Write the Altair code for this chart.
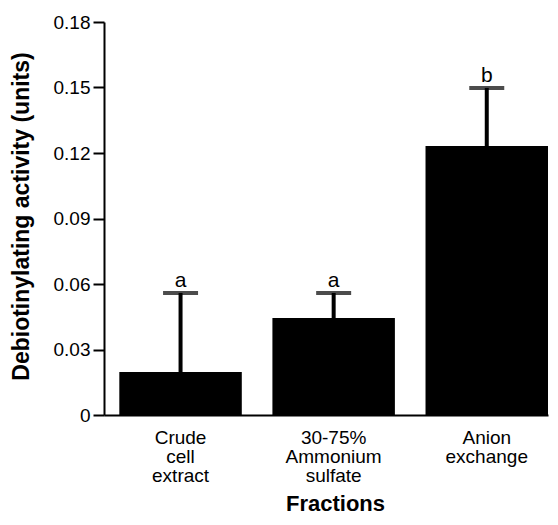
import altair as alt
import pandas as pd

categories = ["Crude|cell|extract", "30-75%|Ammonium|sulfate", "Anion|exchange"]
activity = [0.0197, 0.0444, 0.1232]
upper_err = [0.0559, 0.0559, 0.1498]
letters = ["a", "a", "b"]
y_ticks = [0, 0.03, 0.06, 0.09, 0.12, 0.15, 0.18]

df = pd.DataFrame({
    "cat": categories,
    "val": activity,
    "up": upper_err,
    "let": letters,
})

FONT = "Liberation Sans"

x_enc = alt.X(
    "cat:N",
    sort=None,
    scale=alt.Scale(paddingInner=0.2, paddingOuter=0.05, align=1),
    axis=alt.Axis(
        title="Fractions",
        labelExpr="split(datum.label, '|')",
        labelAngle=0,
        ticks=False,
        tickSize=0,
        labelPadding=13,
        labelLineHeight=19,
        labelFontSize=19,
        labelFont=FONT,
        labelColor="black",
        labelBaseline="top",
        domainColor="black",
        domainWidth=2,
        titleFont=FONT,
        titleFontSize=22,
        titleFontWeight="bold",
        titleColor="black",
        titleBaseline="top",
        titleX=231,
        titleY=78,
    ),
)

y_scale = alt.Scale(domain=[0, 0.18], nice=False, zero=True)

bars = alt.Chart(df).mark_bar(color="black").encode(
    x=x_enc,
    y=alt.Y(
        "val:Q",
        scale=y_scale,
        axis=alt.Axis(
            title="Debiotinylating activity (units)",
            values=y_ticks,
            labelExpr="datum.value == 0 ? '0' : format(datum.value, '.2f')",
            grid=False,
            tickSize=11,
            tickWidth=2,
            tickColor="black",
            labelPadding=3,
            labelFontSize=19,
            labelFont=FONT,
            labelColor="black",
            domainColor="black",
            domainWidth=2,
            titleFont=FONT,
            titleFontSize=23,
            titleFontWeight="bold",
            titleColor="black",
            titleAngle=-90,
            titleBaseline="alphabetic",
            titleAlign="center",
            titleX=-76,
            titleY=194,
        ),
    ),
)

err = alt.Chart(df).mark_rule(color="black", strokeWidth=4).encode(
    x=alt.X("cat:N", sort=None),
    y=alt.Y("val:Q"),
    y2="up:Q",
)

caps = alt.Chart(df).mark_tick(color="black", thickness=4, size=35, orient="horizontal").encode(
    x=alt.X("cat:N", sort=None),
    y=alt.Y("up:Q"),
)

labels = alt.Chart(df).mark_text(
    font=FONT, fontSize=21, color="black", baseline="alphabetic", dy=-6
).encode(
    x=alt.X("cat:N", sort=None),
    y=alt.Y("up:Q"),
    text="let:N",
)

chart = alt.layer(bars, err, caps, labels).properties(
    width=444,
    height=393,
    autosize=alt.AutoSizeParams(type="none"),
    padding={"left": 96, "top": 14, "right": 2, "bottom": 100},
).configure_view(stroke=None)

chart.save("out.html", embed_options={"renderer": "svg", "actions": False})
